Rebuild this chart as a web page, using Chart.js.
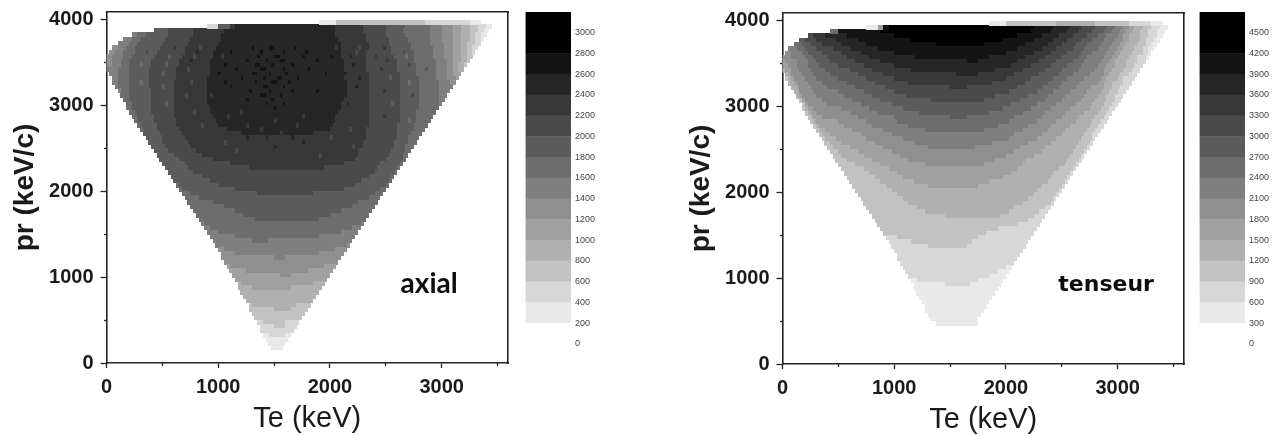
<!DOCTYPE html>
<html><head><meta charset="utf-8">
<style>
html,body{margin:0;padding:0;background:#fff;overflow:hidden;width:1284px;height:436px}
canvas{position:absolute;display:block}
</style>
<script src="https://cdn.jsdelivr.net/npm/chart.js@4/dist/chart.umd.js"></script>
</head><body>
<canvas id="axial" width="520" height="436" style="left:0;top:0"></canvas>
<canvas id="axialBar" width="80" height="360" style="left:525px;top:0"></canvas>
<canvas id="tenseur" width="520" height="436" style="left:676px;top:1px"></canvas>
<canvas id="tenseurBar" width="80" height="360" style="left:1199px;top:0"></canvas>
<script>
// Each row is one pr bin (3975 keV/c at the top, 50 keV/c apart).
// "start token token ...": start = first Te bin (25 keV wide); token = band level (hex) + end Te bin.
const axialCells = [
"76 182 3114 2130 1134",
"36 240 944 b46 c82 b92 a100 9107 8116 7120 6124 5127 4130 3133 2136 1138",
"17 922 a31 b42 c82 b92 a100 9106 8116 7120 6124 5127 4130 3133 2135 1137",
"9 711 814 922 a31 b41 c82 b93 a100 9107 8116 7120 6124 5127 4130 3132 2134 1136",
"6 79 812 921 a30 b41 c83 b93 a101 9108 8116 7120 6124 5127 4130 3132 2134 1135",
"4 78 811 920 a29 b40 c84 b94 a101 9109 8116 7121 6124 5127 4129 3132 2134",
"2 64 77 810 919 a24 b25 a28 b33 a34 b39 c52 d53 c58 d60 c67 d68 c82 b83 c84 b90 a91 b94 a99 b100 a102 9109 8117 7121 6124 5127 4129 3131 2133",
"1 63 76 810 914 a15 918 a28 b32 c33 b38 c44 d45 c55 d56 c63 d64 c71 d72 c84 b89 a90 b93 a102 9106 a107 9110 8117 7121 6124 5127 4129 3131 2132",
"0 62 76 89 917 a22 923 a27 b31 a32 b38 c41 b42 c54 d55 c60 d62 c70 d71 c80 d81 c84 b87 c88 b93 a96 b97 a103 9107 8108 9110 8117 7121 6124 5127 4129 3131",
"0 62 75 88 916 a26 b30 c31 b37 c50 d51 c57 d58 c62 d64 c75 d76 c85 b93 a100 b101 a104 9110 8118 7122 6124 5127 4129 3130",
"0 62 75 88 912 813 916 a21 922 a26 b37 c42 d43 c53 d55 c59 d60 c66 d67 c85 b88 c89 b93 a104 9108 a109 9111 8118 7122 6124 5126 4128 3129",
"0 74 88 915 a25 b29 a30 b37 c46 d47 c55 d57 c63 d64 c72 d73 c85 b93 a98 b99 a104 9111 8114 9115 8118 7122 6124 5126 4128",
"1 74 88 915 a20 921 a25 b37 c40 d41 c52 d54 c58 d59 c64 d65 c78 d79 c86 b94 a105 9111 8118 7122 6124 5127",
"2 74 88 915 a25 b36 c48 d49 c56 d57 c61 d63 c68 d69 c85 b90 c91 b94 a101 9102 a105 9112 8118 7122 6125 5126",
"2 74 88 912 813 915 a24 b30 a31 b36 c42 d43 c53 d54 c59 d61 c65 d66 c86 b94 a105 9108 8109 9112 8119 7123 6125",
"3 74 88 915 a20 921 a24 b36 c44 d45 c56 d58 c63 d64 c86 b89 c90 b94 a105 9112 8119 7124",
"4 75 88 916 a24 b36 c51 d52 c58 d59 c66 d67 c75 d76 c86 b94 a99 b100 a105 9112 8119 7123",
"5 88 916 a24 b28 a29 b36 c37 b38 c55 d57 c62 d63 c86 b94 a105 9109 a110 9112 8119 7122",
"6 88 916 a24 b36 c50 d51 c59 d60 c85 b94 a105 9112 8119 7121",
"7 89 916 a21 922 a24 b36 c57 d58 c63 d64 c84 b86 c87 b94 a102 9103 a105 9112 8119 7120",
"7 89 916 a24 b37 c60 d61 c84 b94 a105 9112 8119",
"8 810 916 a24 b31 a32 b37 c48 b49 c83 b94 a105 9111 8118",
"9 811 917 a24 b38 c43 b44 c70 b71 c82 b94 a99 b100 a105 9111 8117",
"10 811 917 a25 b39 c60 b61 c82 b94 a105 9108 8109 9111 8116",
"11 812 918 a25 b34 a35 b40 c50 b51 c68 b69 c81 b94 a104 9110 8115",
"12 813 918 a26 b43 c55 b56 c80 b87 a88 b93 a104 9110 8114",
"13 919 a27 b48 c62 b63 c74 b93 a104 9109 8113",
"14 920 a28 b50 c51 b57 c58 b66 c67 b80 a81 b93 a104 9108 8112",
"15 920 a29 b42 a43 b70 c71 b92 a103 9108 8111",
"16 921 a30 b60 c61 b88 a89 b92 a103 9107 8110",
"17 922 a32 b46 a47 b90 a102 9107 8109",
"18 924 a34 b76 a77 b90 a101 9106 8108",
"19 926 a38 b89 a100 9106 8107",
"20 928 a44 b85 a98 9105 8106",
"21 929 a51 b78 a97 9104 8105",
"22 931 a96 9103 8104",
"23 934 a94 9102 8103",
"24 937 a91 9101 8102",
"25 826 940 a89 9100 8101",
"26 827 946 a85 998 8100",
"27 830 954 a74 996 899",
"28 833 994 898",
"29 838 990 897",
"30 842 988 896",
"31 846 984 895",
"32 849 980 894",
"33 853 976 893",
"34 735 891 792",
"35 737 888 791",
"36 740 884 790",
"37 746 876 789",
"38 752 858 764 788",
"39 786 687",
"40 642 782 686",
"41 646 776 685",
"41 660 764 684",
"42 683",
"43 544 678 582",
"44 550 672 581",
"45 562 666 580",
"46 579",
"47 448 574 478",
"47 452 566 477",
"48 476",
"49 475",
"50 474",
"51 352 468 373",
"51 360 466 372",
"52 371",
"53 370",
"54 256 364 269",
"55 260 364 268",
"55 267",
"56 158 264 166",
"57 165",
"58 164",
"59 163"
];
const tenseurCells = [
"74 180 398 4112 3124 2132 1136",
"30 134 536 d38 e90 d97 c103 b107 a112 9116 8119 7122 6124 5126 4129 3132 2135 1138",
"17 820 d35 e89 d96 c102 b106 a111 9115 8118 7121 6123 5125 4128 3131 2134 1137",
"9 a11 b15 c23 d40 e84 d93 c99 b104 a109 9113 8116 7120 6122 5124 4128 3131 2134 1136",
"6 98 a12 b19 c27 d46 e79 d90 c97 b102 a107 9111 8115 7119 6122 5124 4128 3130 2133 1135",
"4 87 910 a14 b21 c30 d55 e72 d87 c95 b100 a105 9109 8114 7118 6121 5123 4127 3130 2132 1134",
"2 75 88 912 a18 b24 c34 d84 c93 b98 a104 9108 8113 7117 6120 5122 4126 3129 2131 1133",
"1 63 77 89 914 a21 b28 c40 d80 c90 b96 a102 9107 8111 7116 6119 5121 4125 3129 2131 1132",
"0 63 78 811 916 a23 b31 c47 d74 c87 b94 a100 9106 8109 7115 6118 5120 4124 3127 2130 1131",
"0 51 65 79 812 917 a26 b35 c66 d70 c84 b92 a98 9104 8108 7114 6117 5119 4123 3127 2130",
"0 52 65 79 813 920 a29 b40 c82 b89 a96 9102 8107 7113 6116 5119 4123 3126 2129",
"0 41 53 66 710 815 924 a32 b46 c76 b86 a94 9100 8106 7112 6115 5118 4122 3125 2128",
"1 42 53 67 711 817 927 a36 b62 c70 b83 a92 999 8104 7110 6115 5117 4121 3124 2127",
"1 32 43 54 68 712 820 930 a40 b80 a89 997 8102 7108 6114 5116 4120 3122 2126",
"2 44 55 69 714 823 933 a45 b75 a87 995 8100 7106 6113 5115 4118 3122 2125",
"3 45 56 610 716 826 937 a60 b66 a84 993 899 7105 6110 5115 4118 3121 2124",
"4 46 611 720 829 940 a81 991 897 7103 6109 5114 4117 3120 2123",
"5 46 57 612 722 832 944 a76 988 895 7101 6108 5113 4116 3119 2122",
"6 37 58 614 725 835 953 a72 985 894 7100 6107 5112 4116 3119 2121",
"7 38 59 616 728 839 982 891 798 6105 5111 4115 3118 2120",
"7 38 49 511 621 731 843 979 889 796 6103 5110 4114 3117 2119",
"8 39 410 512 624 734 849 974 886 794 6101 5108 4113 3116 2118",
"9 310 411 514 627 740 860 966 883 793 6100 5106 4112 3115 2117",
"10 311 412 520 630 741 881 791 698 5105 4111 3114 2116",
"11 312 413 522 632 745 877 788 696 5103 4110 3113 2115",
"12 313 415 525 636 751 872 786 695 5101 4109 3112 2114",
"13 314 417 528 639 783 693 5100 4108 3111 2113",
"14 315 419 530 643 781 691 598 4107 3111 2112",
"15 317 421 533 647 775 688 596 4106 3110 2111",
"16 318 424 536 652 769 685 594 4105 3109 2110",
"17 320 427 539 683 593 4104 3108 2109",
"18 321 429 542 680 590 4103 3107 2108",
"19 323 432 545 676 587 4102 3106 2107",
"20 326 435 551 672 586 4101 3105 2106",
"21 329 438 584 499 3104 2105",
"22 331 441 582 497 3103 2104",
"23 333 443 579 496 3102 2103",
"24 335 447 574 495 3101 2102",
"25 337 452 570 493 3100 2101",
"26 339 491 399 2100",
"27 341 490 398 299",
"28 343 488 397 298",
"29 345 486 396 297",
"30 348 483 394 296",
"31 351 481 392 295",
"32 358 478 390 294",
"33 388 293",
"34 384 292",
"35 377 291",
"36 373 290",
"37 241 370 289",
"38 246 368 288",
"39 252 366 287",
"40 286",
"41 285",
"41 284",
"42 283",
"43 280 182",
"44 277 181",
"45 274 180",
"46 148 270 179",
"47 158 267 178",
"47 177",
"48 176",
"49 175",
"50 174",
"51 173",
"51 172",
"52 171",
"53 170",
"55 170"
];
const bandGrays = ["#ffffff","#e9e9e9","#d7d7d7","#c2c2c2","#b0b0b0","#a0a0a0","#8f8f8f","#7f7f7f","#6d6d6d","#5c5c5c","#4a4a4a","#383838","#262626","#141414","#000000"];
const axialBands = [0,200,400,600,800,1000,1200,1400,1600,1800,2000,2200,2400,2600,2800,3200];
const tenseurBands = [0,300,600,900,1200,1500,1800,2100,2400,2700,3000,3300,3600,3900,4200,4800];
const axialTicks = [0,200,400,600,800,1000,1200,1400,1600,1800,2000,2200,2400,2600,2800,3000];
const tenseurTicks = [0,300,600,900,1200,1500,1800,2100,2400,2700,3000,3300,3600,3900,4200,4500];
const teTicks = [0,1000,2000,3000];
const teMinorTicks = [500,1500,2500,3500];
const prTicks = [0,1000,2000,3000,4000];
const prMinorTicks = [500,1500,2500,3500];
const xTitle = "Te (keV)", yTitle = "pr (keV/c)";

const TEXT = "#1a1a1a", LINE = "#222222", SANS = "'Liberation Sans', Arial, sans-serif";
const TE_MAX = 3593, PR_MAX = 4093, TOP_PR = 3975, PR_BIN = 50, TE_BIN = 25;

function cellImage(color){
  const c = document.createElement("canvas"); c.width = 3; c.height = 5;
  const g = c.getContext("2d"); g.fillStyle = color; g.fillRect(0,0,3,5); return c;
}
function decode(rows){
  const levels = bandGrays.map(() => []);
  rows.forEach((row, i) => {
    const t = row.split(" ");
    let col = +t[0];
    for (let k = 1; k < t.length; k++) {
      const lvl = parseInt(t[k][0], 16), end = +t[k].slice(1);
      for (; col < end; col++) levels[lvl].push({x:(col + .5) * TE_BIN, y:TOP_PR - i * PR_BIN});
    }
  });
  return levels;
}
function fit(prop, v){ return s => { s[prop] = v; s.paddingLeft = s.paddingRight = s.paddingTop = s.paddingBottom = 0; }; }
function setTicks(list){ return s => { s.ticks = list.map(value => ({value})); }; }
function frameAxis(axis, pos, max, list, tick, showBorder){
  return {type:"linear", axis, position:pos, min:0, max, afterFit:fit(axis === "x" ? "height" : "width", 0),
    afterBuildTicks:setTicks(list),
    ticks:{display:false},
    grid:{drawOnChartArea:false, tickLength:tick, tickColor:LINE, tickWidth:1.3, drawTicks:tick > 0},
    border:{display:showBorder, color:LINE, width:1.6}};
}
function heat(id, rows, note, noteX, noteY, noteFont){
  const levels = decode(rows);
  const datasets = [];
  levels.forEach((data, l) => { if (data.length) datasets.push({
    label:"band " + l, data, pointStyle:cellImage(bandGrays[l]), pointRadius:2, showLine:false
  }); });
  new Chart(document.getElementById(id), {
    type:"scatter",
    data:{datasets},
    options:{
      responsive:false, animation:false, events:[],
      layout:{padding:{top:12, right:12, left:0, bottom:0}},
      plugins:{legend:{display:false}, tooltip:{enabled:false}},
      scales:{
        x:{type:"linear", position:"bottom", min:0, max:TE_MAX, afterFit:fit("height",73), afterBuildTicks:setTicks(teTicks),
          ticks:{maxRotation:0, padding:7, autoSkip:false, color:TEXT, font:{family:SANS, size:20, weight:"bold"}, callback:v => String(v)},
          grid:{drawOnChartArea:false, tickLength:5, tickColor:LINE, tickWidth:1.3},
          border:{color:LINE, width:1.6},
          title:{display:true, text:xTitle, color:TEXT, font:{family:SANS, size:29}, padding:{top:0,bottom:0}}},
        y:{type:"linear", position:"left", min:0, max:PR_MAX, afterFit:fit("width",106.5), afterBuildTicks:setTicks(prTicks),
          ticks:{padding:7, autoSkip:false, color:TEXT, font:{family:SANS, size:20, weight:"bold"}, callback:v => String(v)},
          grid:{drawOnChartArea:false, tickLength:6, tickColor:LINE, tickWidth:1.3},
          border:{color:LINE, width:1.6},
          title:{display:true, text:yTitle, color:TEXT, font:{family:SANS, size:28, weight:"bold"}, padding:{top:8,bottom:0}}},
        xMinor:frameAxis("x", {y:0}, TE_MAX, teMinorTicks, 3, false),
        yMinor:frameAxis("y", {x:0}, PR_MAX, prMinorTicks, 3, false),
        xTop:frameAxis("x", {y:PR_MAX}, TE_MAX, [], 0, true),
        yRight:frameAxis("y", {x:TE_MAX}, PR_MAX, [], 0, true)
      }
    },
    plugins:[{id:"note", afterDatasetsDraw(chart){
      const c = chart.ctx; c.save();
      c.font = noteFont; c.fillStyle = "#0c0c0c"; c.textAlign = "center"; c.textBaseline = "middle";
      c.fillText(note, chart.scales.x.getPixelForValue(noteX), chart.scales.y.getPixelForValue(noteY));
      c.restore();
    }}]
  });
}
function bar(id, bands, ticks){
  const top = bands[bands.length - 1];
  const datasets = bandGrays.map((g, i) => ({data:[bands[i + 1] - bands[i]], backgroundColor:g, borderWidth:0, barPercentage:1, categoryPercentage:1}));
  new Chart(document.getElementById(id), {
    type:"bar",
    data:{labels:[""], datasets},
    options:{
      responsive:false, animation:false, events:[],
      layout:{padding:{top:12, bottom:16, left:0.5, right:0}},
      plugins:{legend:{display:false}, tooltip:{enabled:false}},
      scales:{
        x:{stacked:true, display:false},
        y:{stacked:true, position:"right", min:0, max:top, afterFit:fit("width",34),
          afterBuildTicks:setTicks(ticks),
          ticks:{padding:4, color:"#444444", font:{family:SANS, size:9}, callback:v => String(v), autoSkip:false},
          grid:{display:false, drawTicks:false}, border:{display:false}}
      }
    }
  });
}
heat("axial", axialCells, "axial", 2887, 925, "bold 28px Lato, sans-serif");
heat("tenseur", tenseurCells, "tenseur", 2896, 915, "bold 22px 'DejaVu Sans', sans-serif");
bar("axialBar", axialBands, axialTicks);
bar("tenseurBar", tenseurBands, tenseurTicks);
</script>
</body></html>
